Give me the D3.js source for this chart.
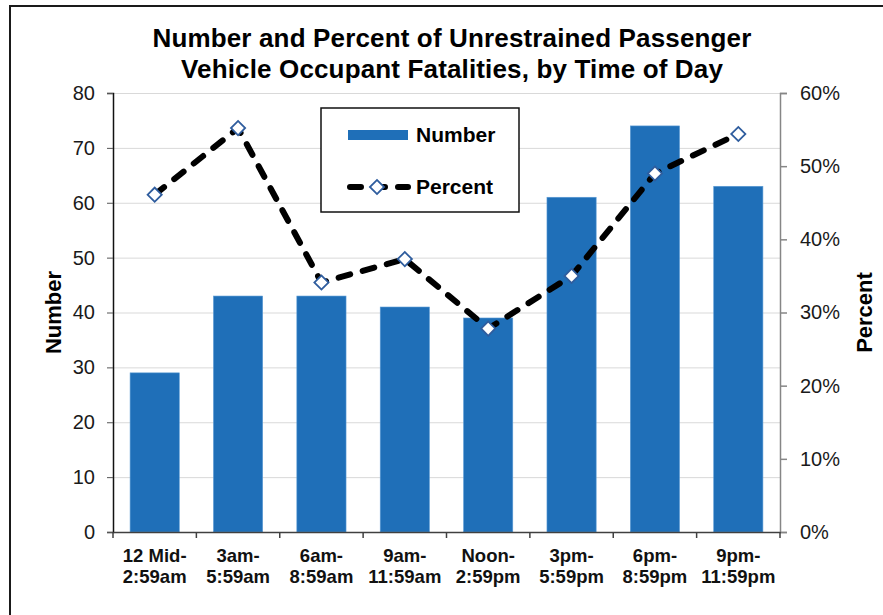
<!DOCTYPE html>
<meta charset="utf-8">
<style>
body {
  margin: 0;
  background: #fff;
  font-family: Arial, "Liberation Sans", sans-serif;
}
svg {
  display: block;
}
.grid line {
  stroke: #d9d9d9;
  stroke-width: 1;
}
.axis text {
  font-size: 20px;
  fill: #1a1a1a;
}
.xaxis text {
  font-size: 18.5px;
  font-weight: bold;
  fill: #111;
}
</style>
<body>
<script src="https://d3js.org/d3.v7.min.js"></script>
<script>

// data
var categories = ["12 Mid-|2:59am", "3am-|5:59am", "6am-|8:59am", "9am-|11:59am",
                  "Noon-|2:59pm", "3pm-|5:59pm", "6pm-|8:59pm", "9pm-|11:59pm"];
var numbers = [29, 43, 43, 41, 39, 61, 74, 63];
var percents = [46.1, 55.2, 34.1, 37.3, 27.8, 35.0, 49.0, 54.4];
var numberTicks = [0, 10, 20, 30, 40, 50, 60, 70, 80];
var percentTicks = [0, 10, 20, 30, 40, 50, 60];
var titleLines = ["Number and Percent of Unrestrained Passenger",
                  "Vehicle Occupant Fatalities, by Time of Day"];

var width = 883, height = 615;
var margin = {top: 93, right: 103, bottom: 83, left: 113};
var plotW = width - margin.left - margin.right;   // 667
var plotH = height - margin.top - margin.bottom;  // 439

var svg = d3.select("body").append("svg")
    .attr("width", width)
    .attr("height", height);

// outer frame (runs off the right and bottom edge in the original)
svg.append("rect")
    .attr("x", 10).attr("y", 6)
    .attr("width", 900).attr("height", 700)
    .attr("fill", "none")
    .attr("stroke", "#1a1a1a")
    .attr("stroke-width", 2);

// title
svg.append("text")
    .attr("x", 452).attr("y", 47)
    .attr("text-anchor", "middle")
    .style("font-size", "26px").style("font-weight", "bold")
    .style("letter-spacing", "0.15px")
    .selectAll("tspan")
    .data(titleLines)
    .enter().append("tspan")
      .attr("x", 452)
      .attr("dy", function(d, i) { return i ? 31 : 0; })
      .text(function(d) { return d; });

var g = svg.append("g")
    .attr("transform", "translate(" + margin.left + "," + margin.top + ")");

// scales
var x = d3.scaleBand()
    .domain(categories)
    .range([0, plotW])
    .paddingInner(0.41)
    .paddingOuter(0.205);

var y = d3.scaleLinear().domain([0, 80]).range([plotH, 0]);
var y2 = d3.scaleLinear().domain([0, 60]).range([plotH, 0]);

// gridlines
g.append("g")
    .attr("class", "grid")
    .selectAll("line")
    .data(numberTicks.slice(1))
    .enter().append("line")
      .attr("x1", 0).attr("x2", plotW)
      .attr("y1", function(d) { return y(d) + 0.5; })
      .attr("y2", function(d) { return y(d) + 0.5; });

// bars
g.selectAll(".bar")
    .data(numbers)
    .enter().append("rect")
      .attr("class", "bar")
      .attr("x", function(d, i) { return x(categories[i]); })
      .attr("width", x.bandwidth())
      .attr("y", function(d) { return y(d); })
      .attr("height", function(d) { return plotH - y(d); })
      .attr("fill", "#1f6fb8")
      .attr("stroke", "#5b9bd5")
      .attr("stroke-width", 0.6);

// left axis
var yAxis = g.append("g")
    .attr("class", "axis")
    .call(d3.axisLeft(y).tickValues(numberTicks).tickSize(6).tickPadding(12));
yAxis.select(".domain").attr("stroke", "#111").attr("stroke-width", 1.5);
yAxis.selectAll(".tick line").attr("stroke", "#555");

// right axis
var y2Axis = g.append("g")
    .attr("class", "axis")
    .attr("transform", "translate(" + plotW + ",0)")
    .call(d3.axisRight(y2).tickValues(percentTicks).tickSize(7).tickPadding(13)
      .tickFormat(function(d) { return d + "%"; }));
y2Axis.select(".domain").attr("stroke", "#868686").attr("stroke-width", 1.5);
y2Axis.selectAll(".tick line").attr("stroke", "#868686").attr("stroke-width", 1.5);

// bottom axis, ticks at band edges
var xAxis = g.append("g")
    .attr("class", "xaxis")
    .attr("transform", "translate(0," + plotH + ")")
    .call(d3.axisBottom(x).tickSize(0).tickPadding(0));
xAxis.select(".domain").attr("stroke", "#404040").attr("stroke-width", 1.5);
xAxis.selectAll(".tick text").each(function(d) {
  var t = d3.select(this).text(null).attr("y", 0).attr("dy", null);
  d.split("|").forEach(function(part, i) {
    t.append("tspan").attr("x", 0).attr("y", i ? 51 : 30).text(part);
  });
});
xAxis.selectAll(".edge")
    .data(d3.range(categories.length + 1))
    .enter().append("line")
      .attr("x1", function(i) { return i * x.step(); })
      .attr("x2", function(i) { return i * x.step(); })
      .attr("y1", 0).attr("y2", 6)
      .attr("stroke", "#404040").attr("stroke-width", 1.5);

// percent line
var line = d3.line()
    .x(function(d, i) { return x(categories[i]) + x.bandwidth() / 2; })
    .y(function(d) { return y2(d); });

g.append("path")
    .datum(percents)
    .attr("d", line)
    .attr("fill", "none")
    .attr("stroke", "#000")
    .attr("stroke-width", 6)
    .attr("stroke-linecap", "round")
    .attr("stroke-dasharray", "12,13");

var diamond = d3.symbol().type(d3.symbolSquare).size(100);

g.selectAll(".marker")
    .data(percents)
    .enter().append("path")
      .attr("class", "marker")
      .attr("d", diamond)
      .attr("transform", function(d, i) {
        return "translate(" + (x(categories[i]) + x.bandwidth() / 2) + "," + y2(d) + ") rotate(45)";
      })
      .attr("fill", "#fff")
      .attr("stroke", "#2f5d9e")
      .attr("stroke-width", 1.8);

// axis titles
svg.append("text")
    .attr("transform", "translate(61," + (margin.top + plotH / 2) + ") rotate(-90)")
    .attr("text-anchor", "middle")
    .style("font-size", "22px").style("font-weight", "bold")
    .text("Number");

svg.append("text")
    .attr("transform", "translate(872," + (margin.top + plotH / 2) + ") rotate(-90)")
    .attr("text-anchor", "middle")
    .style("font-size", "22px").style("font-weight", "bold")
    .text("Percent");

// legend
var legend = svg.append("g");
legend.append("rect")
    .attr("x", 321).attr("y", 108)
    .attr("width", 198).attr("height", 104)
    .attr("fill", "#fff")
    .attr("stroke", "#111")
    .attr("stroke-width", 1.5);

legend.append("rect")
    .attr("x", 348).attr("y", 130)
    .attr("width", 60).attr("height", 10)
    .attr("fill", "#1f6fb8");

legend.append("path")
    .attr("d", d3.line()([[350, 187], [408, 187]]))
    .attr("stroke", "#000")
    .attr("stroke-width", 6)
    .attr("stroke-linecap", "round")
    .attr("stroke-dasharray", "11,13");

legend.append("path")
    .attr("d", diamond)
    .attr("transform", "translate(377,187) rotate(45)")
    .attr("fill", "#fff")
    .attr("stroke", "#2f5d9e")
    .attr("stroke-width", 1.8);

legend.selectAll(".ltext")
    .data(["Number", "Percent"])
    .enter().append("text")
      .attr("x", 416)
      .attr("y", function(d, i) { return i ? 194 : 142; })
      .style("font-size", "21px").style("font-weight", "bold")
      .text(function(d) { return d; });

</script>
</body>
